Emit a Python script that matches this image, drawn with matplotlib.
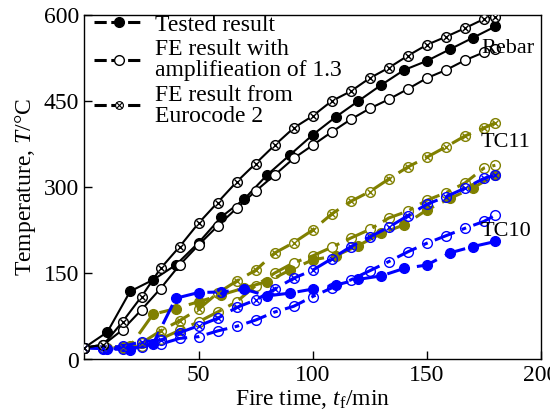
import matplotlib
matplotlib.use("Agg")
import matplotlib.pyplot as plt
from matplotlib.lines import Line2D

plt.rcParams['font.family'] = ['Liberation Serif', 'DejaVu Serif']
plt.rcParams['mathtext.fontset'] = 'custom'
plt.rcParams['mathtext.rm'] = 'Liberation Serif'
plt.rcParams['mathtext.it'] = 'Liberation Serif:italic'

# time grids (min)
t_test = [0, 10, 20, 30, 40, 50, 60, 70, 80, 90, 100, 110, 120, 130, 140, 150, 160, 170, 180]
t_fe = [0, 8.33, 16.67, 25, 33.33, 41.67, 50, 58.33, 66.67, 75, 83.33, 91.67, 100,
        108.33, 116.67, 125, 133.33, 141.67, 150, 158.33, 166.67, 175, 180]

# Rebar
rebar_test = [20, 47, 118, 138, 164, 203, 248, 279, 321, 356, 391, 422, 450, 478, 504, 520, 540, 560, 580]
rebar_fe13 = [20, 25, 51, 86, 123, 164, 199, 232, 263, 293, 321, 350, 373, 396, 418, 437, 453, 471,
              490, 504, 521, 535, 541]
rebar_ec2 = [20, 25, 65, 109, 158, 196, 237, 273, 309, 341, 373, 403, 424, 450, 467, 490, 508, 529,
             548, 562, 577, 593, 597]

# TC11
tc11_test = [20, 20, 22, 78, 88, 100, 112, 124, 135, 155, 173, 180, 198, 219, 234, 260, 280, 298, 321]
tc11_fe13 = [20, 20, 20, 22, 35, 50, 65, 82, 100, 128, 150, 168, 180, 195, 211, 226, 246, 258,
             277, 290, 307, 333, 338]
tc11_ec2 = [20, 20, 21, 28, 49, 67, 87, 115, 136, 155, 185, 203, 225, 253, 275, 292, 314, 335,
            352, 370, 389, 403, 412]

# TC10
tc10_test = [20, 18, 16, 26, 106, 116, 117, 122, 110, 115, 122, 129, 139, 145, 158, 164, 185, 196, 205]
tc10_fe13 = [20, 18, 18, 21, 26, 36, 39, 49, 57, 68, 82, 92, 109, 124, 138, 154, 170, 187,
             202, 215, 228, 240, 251]
tc10_ec2 = [20, 20, 22, 30, 33, 46, 58, 71, 90, 103, 122, 141, 155, 175, 196, 213, 230, 250,
            270, 283, 298, 315, 321]

fig = plt.figure(figsize=(5.5, 4.17), dpi=100)
ax = fig.add_axes([0.1536, 0.139, 0.8300, 0.825])

ms = 7
dash = (0, (7, 3))
dashdot = (0, (7, 2.5, 1.5, 2.5))
FS = 17


def draw(color, test, fe13, ec2, lw):
    face_open = 'white' if color == 'black' else 'none'
    ax.plot(t_test, test, color=color, lw=lw, linestyle=dash if color != 'black' else '-',
            marker='o', ms=ms, mfc=color, mec=color, zorder=3)
    ax.plot(t_fe, fe13, color=color, lw=lw, linestyle=dashdot if color != 'black' else '-',
            marker='o', ms=ms, mfc=face_open, mec=color, mew=1.0, zorder=3)
    ax.plot(t_fe, ec2, color=color, lw=lw, linestyle=dash if color != 'black' else '-',
            marker='o', ms=ms, mfc=face_open, mec=color, mew=1.0, zorder=3)
    ax.plot(t_fe, ec2, linestyle='none', marker='x', ms=ms * 0.7, mec=color, mew=1.0, zorder=4)


draw('#808000', tc11_test, tc11_fe13, tc11_ec2, 2.2)
draw('#0000ff', tc10_test, tc10_fe13, tc10_ec2, 2.2)
draw('black', rebar_test, rebar_fe13, rebar_ec2, 1.5)

ax.set_xlim(0, 200)
ax.set_ylim(0, 600)
ax.set_xticks([50, 100, 150, 200])
ax.set_yticks([0, 150, 300, 450, 600])
ax.tick_params(direction='in', length=6, width=1, labelsize=FS, top=False, right=False, pad=4)
ax.set_yticklabels(['', '150', '300', '450', '600'])
ax.text(-2.5, -6, '0', transform=ax.transData, fontsize=FS, ha='right', va='center')
for s in ax.spines.values():
    s.set_linewidth(1.0)

ax.set_xlabel('Fire time, $t_\\mathrm{f}$/min', fontsize=FS, labelpad=2)
ax.set_ylabel('Temperature, $T$/°C', fontsize=FS, labelpad=4)

ax.text(174.0, 541, 'Rebar', fontsize=16, ha='left', va='center')
ax.text(173.5, 377, 'TC11', fontsize=16, ha='left', va='center')
ax.text(173.5, 222, 'TC10', fontsize=16, ha='left', va='center')

h1 = Line2D([], [], color='black', lw=2.2, linestyle=(0, (4, 1.5)), marker='o', ms=ms, mfc='black')
h2 = Line2D([], [], color='black', lw=2.2, linestyle=(0, (4, 1.5)), marker='o', ms=ms, mfc='white', mew=1.0)
h3a = Line2D([], [], color='black', lw=2.2, linestyle=(0, (4, 1.5)), marker='o', ms=ms * 0.8, mfc='white', mew=0.8)
h3b = Line2D([], [], linestyle='none', marker='x', ms=ms * 0.55, mec='black', mew=0.8)
leg = ax.legend([h1, h2, (h3a, h3b)],
                ['Tested result', 'FE result with\namplifieation of 1.3', 'FE result from\nEurocode 2'],
                loc='upper left', bbox_to_anchor=(0.0, 1.03), frameon=False, fontsize=FS,
                handlelength=2.1, handletextpad=0.5, labelspacing=0.15, borderpad=0.1,
                borderaxespad=0.3)
for t in leg.get_texts():
    t.set_linespacing(1.0)

fig.savefig('out.png', dpi=100)
